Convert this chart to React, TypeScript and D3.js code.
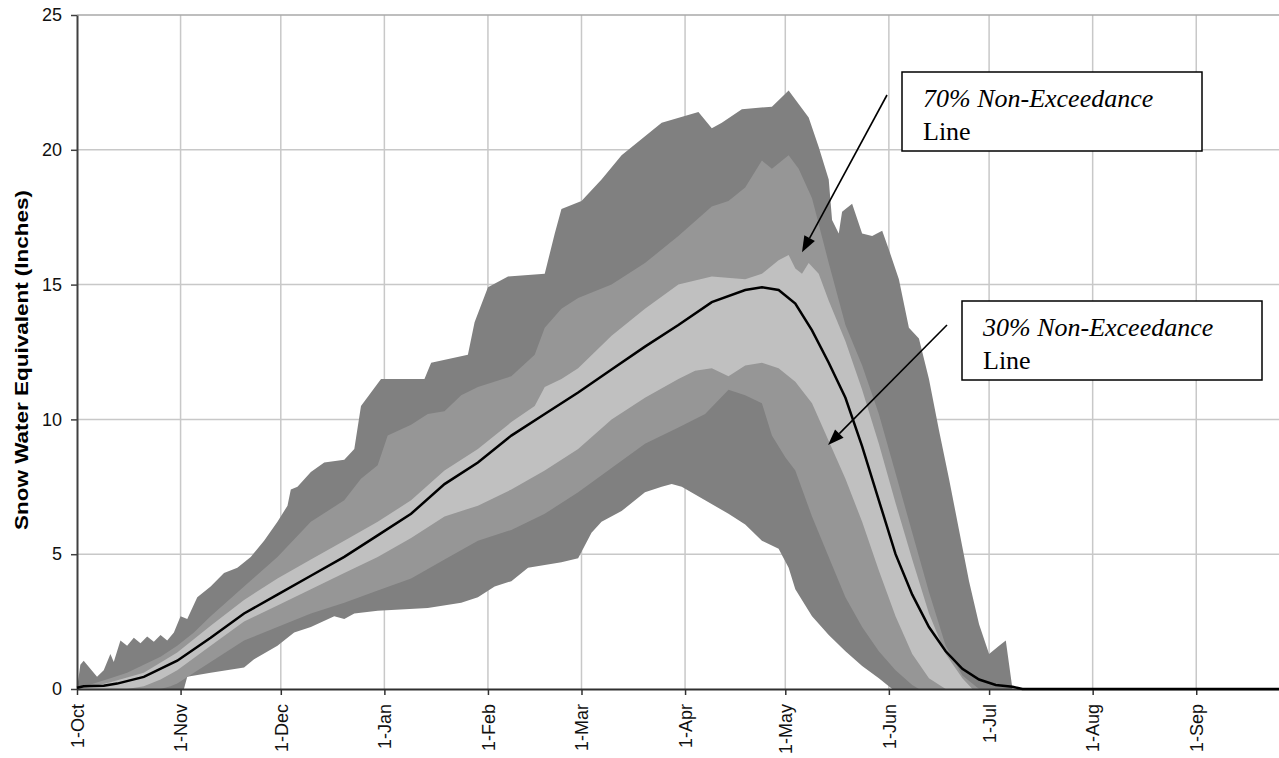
import React, { useEffect, useRef } from "react";
import * as d3 from "d3";

// [days after 1-Oct, snow water equivalent in inches]
const maxSeries: [number, number][] = [
  [0, 0], [1, 0.9], [2, 1.05], [4, 0.75], [6, 0.45], [8, 0.7], [10, 1.3], [11, 1.0],
  [13, 1.8], [15, 1.6], [17, 1.9], [19, 1.7], [21, 1.95], [23, 1.75], [25, 2.0], [27, 1.8],
  [29, 2.1], [31, 2.7], [33, 2.6], [36, 3.4], [40, 3.8], [44, 4.3], [48, 4.5], [52, 4.9],
  [56, 5.5], [60, 6.2], [63, 6.8], [64, 7.4], [66, 7.5], [70, 8.05], [74, 8.4], [80, 8.5],
  [83, 8.9], [85, 10.5], [88, 11.0], [91, 11.5], [104, 11.5], [106, 12.1], [117, 12.4],
  [119, 13.6], [123, 14.9], [129, 15.3], [140, 15.4], [143, 16.9], [145, 17.8], [151, 18.1],
  [157, 18.9], [163, 19.8], [169, 20.4], [175, 21.0], [186, 21.4], [190, 20.8], [193, 21.0],
  [199, 21.5], [208, 21.6], [213, 22.2], [216, 21.7], [219, 21.2], [222, 20.1], [225, 18.9],
  [226, 17.4], [228, 16.9], [229, 17.7], [232, 18.0], [235, 16.9], [238, 16.8], [241, 17.0],
  [243, 16.3], [246, 15.2], [249, 13.4], [252, 13.0], [255, 11.5], [258, 9.6], [261, 7.8],
  [264, 5.9], [267, 4.0], [270, 2.4], [273, 1.3], [276, 1.6], [278, 1.8], [279, 0.9], [280, 0],
];

const p90Series: [number, number][] = [
  [0, 0], [5, 0.2], [10, 0.4], [15, 0.6], [20, 0.9], [25, 1.2], [30, 1.6], [35, 2.1],
  [40, 2.7], [50, 3.8], [60, 4.9], [70, 6.2], [80, 7.0], [85, 7.8], [90, 8.3], [93, 9.4],
  [100, 9.8], [105, 10.2], [110, 10.3], [115, 10.9], [120, 11.2], [130, 11.6], [137, 12.4],
  [140, 13.4], [145, 14.1], [150, 14.5], [160, 15.0], [170, 15.8], [180, 16.8], [190, 17.9],
  [195, 18.1], [200, 18.6], [205, 19.6], [208, 19.3], [213, 19.8], [216, 19.3], [220, 18.2],
  [225, 15.8], [230, 13.5], [235, 12.0], [240, 10.2], [245, 8.0], [250, 5.8], [255, 3.6],
  [260, 1.6], [265, 0.5], [270, 0],
];

const p70Series: [number, number][] = [
  [0, 0], [5, 0.1], [10, 0.25], [20, 0.6], [30, 1.35], [40, 2.35], [50, 3.3], [60, 4.1],
  [70, 4.8], [80, 5.5], [90, 6.2], [100, 7.0], [110, 8.1], [120, 8.9], [130, 9.9], [137, 10.5],
  [140, 11.2], [145, 11.5], [150, 11.9], [160, 13.1], [170, 14.1], [180, 15.0], [190, 15.3],
  [200, 15.2], [205, 15.4], [210, 15.9], [213, 16.1], [215, 15.6], [217, 15.4], [219, 15.8],
  [222, 15.4], [225, 14.4], [230, 12.9], [235, 11.1], [240, 9.1], [245, 6.9], [250, 4.8],
  [255, 2.8], [260, 1.3], [265, 0.4], [268, 0],
];

const medianSeries: [number, number][] = [
  [0, 0.05], [2, 0.1], [8, 0.12], [12, 0.2], [20, 0.45], [30, 1.05], [40, 1.9], [50, 2.8],
  [60, 3.5], [70, 4.2], [80, 4.9], [90, 5.7], [100, 6.5], [110, 7.6], [120, 8.4], [130, 9.4],
  [140, 10.2], [150, 11.0], [160, 11.85], [170, 12.7], [180, 13.5], [190, 14.35], [200, 14.8],
  [205, 14.9], [210, 14.8], [215, 14.3], [220, 13.3], [225, 12.1], [230, 10.8], [235, 9.0],
  [240, 7.0], [245, 5.0], [250, 3.5], [255, 2.3], [260, 1.4], [265, 0.75], [270, 0.35],
  [275, 0.15], [280, 0.08], [283, 0], [364, 0],
];

const p30Series: [number, number][] = [
  [0, 0], [15, 0], [20, 0.1], [25, 0.35], [30, 0.7], [40, 1.6], [50, 2.5], [60, 3.1],
  [70, 3.7], [80, 4.3], [90, 4.9], [100, 5.6], [110, 6.4], [120, 6.8], [130, 7.4], [140, 8.1],
  [150, 8.9], [160, 10.0], [170, 10.8], [180, 11.5], [185, 11.8], [190, 11.9], [195, 11.6],
  [200, 12.0], [205, 12.1], [210, 11.9], [215, 11.4], [220, 10.6], [225, 9.2], [230, 7.8],
  [235, 6.2], [240, 4.4], [245, 2.7], [250, 1.3], [255, 0.4], [260, 0],
];

const p10Series: [number, number][] = [
  [0, 0], [25, 0], [28, 0.1], [30, 0.2], [40, 1.0], [50, 1.8], [60, 2.3], [70, 2.8],
  [80, 3.2], [90, 3.65], [100, 4.1], [110, 4.8], [120, 5.5], [130, 5.9], [140, 6.5],
  [150, 7.3], [160, 8.2], [170, 9.1], [180, 9.7], [188, 10.2], [195, 11.1], [200, 10.9],
  [205, 10.6], [208, 9.4], [212, 8.6], [215, 8.1], [220, 6.4], [225, 4.9], [230, 3.4],
  [235, 2.3], [240, 1.4], [245, 0.7], [250, 0.15], [252, 0],
];

const minSeries: [number, number][] = [
  [0, 0], [32, 0], [33, 0.45], [40, 0.6], [50, 0.8], [53, 1.1], [60, 1.6], [65, 2.1],
  [70, 2.3], [77, 2.7], [80, 2.6], [83, 2.8], [90, 2.9], [105, 3.0], [115, 3.2], [120, 3.4],
  [125, 3.8], [130, 4.0], [135, 4.5], [145, 4.7], [150, 4.85], [154, 5.8], [157, 6.2],
  [163, 6.6], [170, 7.3], [175, 7.5], [178, 7.6], [181, 7.5], [188, 7.0], [195, 6.5],
  [200, 6.1], [205, 5.5], [210, 5.2], [213, 4.5], [215, 3.7], [220, 2.7], [225, 2.0],
  [230, 1.4], [235, 0.85], [240, 0.4], [244, 0],
];

const yTicks = [0, 5, 10, 15, 20, 25];

const notes = [
  { top: "70% Non-Exceedance", bottom: "Line", tip: [217, 16.2] as [number, number] },
  { top: "30% Non-Exceedance", bottom: "Line", tip: [224.8, 9.05] as [number, number] },
];

const App = () => {
  const ref = useRef<SVGSVGElement>(null);

  useEffect(() => {
    const width = 1279,
      height = 758;
    const margin = { top: 15, left: 77, bottom: 69 };
    const plotBottom = height - margin.bottom;

    const svg = d3.select(ref.current);
    svg.selectAll("*").remove();

    const start = new Date(Date.UTC(2001, 9, 1));
    const end = new Date(Date.UTC(2002, 9, 1));
    const x = d3
      .scaleUtc()
      .domain([start, end])
      .range([margin.left, margin.left + 365 * 3.341]);
    const dayX = (d: number) => x(d3.utcDay.offset(start, Math.floor(d))) + (d % 1) * 3.341;
    const y = d3.scaleLinear().domain([0, 25]).range([plotBottom, margin.top]);

    const months = d3.utcMonth.range(start, end);

    // gridlines
    const grid = svg.append("g");
    grid
      .selectAll(".vgrid")
      .data(months.slice(1))
      .join("line")
      .attr("x1", (d) => x(d))
      .attr("x2", (d) => x(d))
      .attr("y1", margin.top)
      .attr("y2", plotBottom)
      .attr("stroke", "#c8c8c8")
      .attr("stroke-width", 1.5);
    grid
      .selectAll(".hgrid")
      .data(yTicks.slice(1))
      .join("line")
      .attr("x1", margin.left)
      .attr("x2", width)
      .attr("y1", (d) => y(d))
      .attr("y2", (d) => y(d))
      .attr("stroke", (d) => (d === 25 ? "#a8a8a8" : "#c8c8c8"))
      .attr("stroke-width", 1.5);

    // bands: outer (min-max), 10-90, 30-70
    const line = d3
      .line<[number, number]>()
      .x((d) => dayX(d[0]))
      .y((d) => y(d[1]));
    const band = (upper: [number, number][], lower: [number, number][]) =>
      line([...upper, ...lower.slice().reverse()]) + "Z";

    svg.append("path").attr("d", band(maxSeries, minSeries)).attr("fill", "#808080");
    svg.append("path").attr("d", band(p90Series, p10Series)).attr("fill", "#969696");
    svg.append("path").attr("d", band(p70Series, p30Series)).attr("fill", "#c0c0c0");

    // y axis
    const yAxis = svg
      .append("g")
      .attr("transform", `translate(${margin.left},0)`)
      .call(d3.axisLeft(y).tickValues(yTicks).tickSize(6).tickSizeOuter(0).tickPadding(9));
    yAxis.select(".domain").attr("stroke", "#404040").attr("stroke-width", 2);
    yAxis.selectAll(".tick line").attr("stroke", "#404040").attr("stroke-width", 1.5);
    yAxis
      .selectAll("text")
      .attr("font-family", "'Liberation Sans', Arial, sans-serif")
      .attr("font-size", 18)
      .attr("fill", "#111");

    // x axis
    const xAxis = svg
      .append("g")
      .attr("transform", `translate(0,${plotBottom})`)
      .call(
        d3
          .axisBottom(x)
          .tickValues(months)
          .tickFormat((d) => d3.utcFormat("%-d-%b")(d as Date))
          .tickSize(6)
          .tickSizeOuter(0)
      );
    xAxis.select(".domain").attr("stroke", "#303030").attr("stroke-width", 2);
    xAxis.selectAll(".tick line").attr("stroke", "#303030").attr("stroke-width", 1.5);
    xAxis
      .selectAll("text")
      .attr("transform", "rotate(-90)")
      .attr("text-anchor", "end")
      .attr("x", -15)
      .attr("y", 0)
      .attr("dy", "0.35em")
      .attr("font-family", "'Liberation Sans', Arial, sans-serif")
      .attr("font-size", 18)
      .attr("fill", "#111");

    // median line
    svg
      .append("path")
      .attr("d", line(medianSeries))
      .attr("fill", "none")
      .attr("stroke", "#000")
      .attr("stroke-width", 2.5);

    // y axis title
    svg
      .append("text")
      .attr("transform", `translate(22,360) rotate(-90)`)
      .attr("text-anchor", "middle")
      .attr("dominant-baseline", "central")
      .attr("font-family", "'Liberation Sans', Arial, sans-serif")
      .attr("font-weight", "bold")
      .attr("font-size", 18)
      .attr("textLength", 340)
      .attr("lengthAdjust", "spacingAndGlyphs")
      .text("Snow Water Equivalent (Inches)");

    // annotations
    const boxes = [
      { x: 902, y: 72, from: [887, 95] },
      { x: 962, y: 301, from: [947, 325] },
    ];
    notes.forEach((n, i) => {
      const b = boxes[i];
      const g = svg.append("g");
      g.append("rect")
        .attr("x", b.x)
        .attr("y", b.y)
        .attr("width", 300)
        .attr("height", 79)
        .attr("fill", "#fff")
        .attr("stroke", "#000")
        .attr("stroke-width", 1.5);
      g.append("text")
        .attr("x", b.x + 21)
        .attr("y", b.y + 35)
        .attr("font-family", "'Liberation Serif', 'Times New Roman', serif")
        .attr("font-style", "italic")
        .attr("font-size", 26)
        .text(n.top);
      g.append("text")
        .attr("x", b.x + 21)
        .attr("y", b.y + 68)
        .attr("font-family", "'Liberation Serif', 'Times New Roman', serif")
        .attr("font-size", 26)
        .text(n.bottom);

      const tx = dayX(n.tip[0]);
      const ty = y(n.tip[1]);
      const [fx, fy] = b.from;
      const ang = Math.atan2(ty - fy, tx - fx);
      const headLen = 16,
        headW = 6;
      const bx = tx - headLen * Math.cos(ang);
      const by = ty - headLen * Math.sin(ang);
      g.append("line")
        .attr("x1", fx)
        .attr("y1", fy)
        .attr("x2", bx)
        .attr("y2", by)
        .attr("stroke", "#000")
        .attr("stroke-width", 1.6);
      g.append("path")
        .attr(
          "d",
          `M${tx},${ty}L${bx + headW * Math.sin(ang)},${by - headW * Math.cos(ang)}L${
            bx - headW * Math.sin(ang)
          },${by + headW * Math.cos(ang)}Z`
        )
        .attr("fill", "#000");
    });
  }, []);

  return (
    <svg
      ref={ref}
      width={1279}
      height={758}
      style={{ position: "absolute", left: 0, top: 0, background: "#fff" }}
    />
  );
};

export default App;
